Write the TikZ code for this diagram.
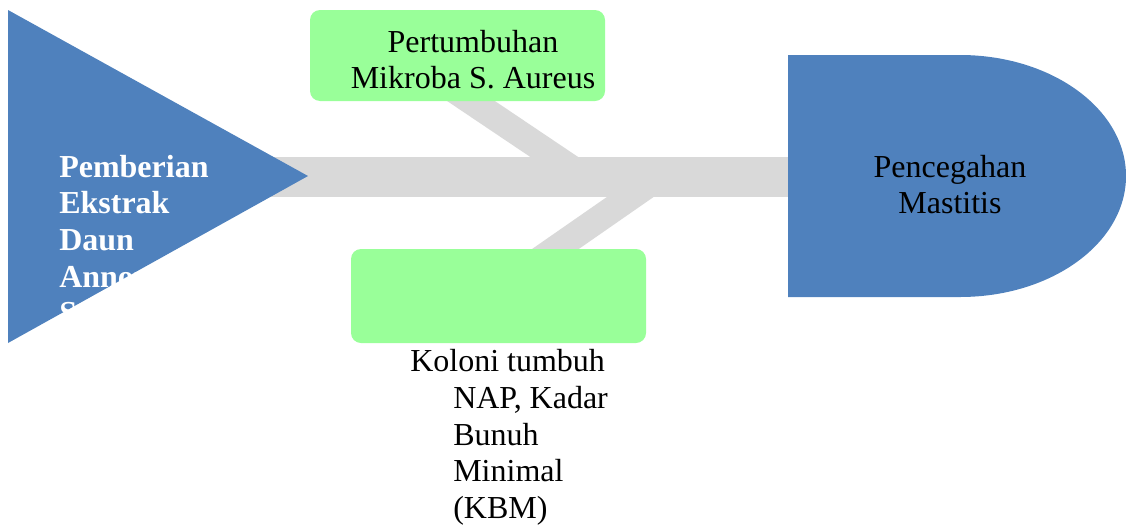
\documentclass[tikz,border=0pt]{standalone}
\usepackage{fontspec}
\setmainfont{Liberation Serif}[BoldFont={Liberation Serif Bold}]
\newfontfamily\tnr{Liberation Serif}
\definecolor{fbblue}{HTML}{4F81BD}
\definecolor{fbgreen}{HTML}{99FF99}
\definecolor{fbgray}{HTML}{D9D9D9}
\begin{document}
\begin{tikzpicture}[x=0.75pt,y=-0.75pt,
  txt/.style={font=\tnr\fontsize{24}{27.5}\selectfont, inner sep=0pt, anchor=base west},
  ctxt/.style={font=\tnr\fontsize{24}{27.5}\selectfont, inner sep=0pt, anchor=base},
  headtxt/.style={txt, text=white, font=\tnr\fontsize{24}{27.5}\selectfont\bfseries},
  spine/.style={draw=fbgray, line width=30pt},
  bone/.style={draw=fbgray, line width=20pt},
  greenbox/.style={fill=fbgreen, draw=none, rounded corners=7.5pt, minimum width=221.25pt, inner sep=0pt},
  bluefill/.style={fill=fbblue, draw=none}]
\useasboundingbox (0,0) rectangle (1126,525);

% spine and bones
\coordinate (spineL) at (270,177);
\coordinate (spineR) at (790,177);
\draw[spine] (spineL) -- (spineR);
\coordinate (b1s) at (410,60);
\coordinate (b1e) at (584,177);
\draw[bone] (b1s) -- (b1e);
\coordinate (b2s) at (482,300);
\coordinate (b2e) at (659,177);
\draw[bone] (b2s) -- (b2e);

% head triangle
\coordinate (h1) at (8,10);
\coordinate (h2) at (308,176);
\coordinate (h3) at (8,343);
\path[bluefill] (h1) -- (h2) -- (h3) -- cycle;
\begin{scope}
\clip (h1) -- (h2) -- (h3) -- cycle;
\node[headtxt] (p1) at (59,177) {Pemberian};
\node[headtxt] (p2) at (59,213) {Ekstrak};
\node[headtxt] (p3) at (59,250) {Daun};
\node[headtxt] (p4) at (59,287) {Annona};
\node[headtxt] (p5) at (59,323) {Squamosa};
\end{scope}

% cause boxes
\node[greenbox, minimum height=68.25pt] (c1) at (457.5,55.5) {};
\node[ctxt] (c1a) at (473,52) {Pertumbuhan};
\node[ctxt] (c1b) at (473,88) {Mikroba S. Aureus};
\node[greenbox, minimum height=70.5pt] (c2) at (498.5,296) {};

% lower label
\node[txt] (k1) at (410,371) {Koloni tumbuh};
\node[txt] (k2) at (453,408) {NAP, Kadar};
\node[txt] (k3) at (453,445) {Bunuh};
\node[txt] (k4) at (453,481) {Minimal};
\node[txt] (k5) at (453,518) {(KBM)};

% effect shape
\path[bluefill] (788,55) -- (960,55) arc[start angle=-90, end angle=90, x radius=166, y radius=121] -- (788,297) -- cycle;
\node[ctxt] (e1) at (950,177) {Pencegahan};
\node[ctxt] (e2) at (950,213) {Mastitis};
\end{tikzpicture}
\end{document}
